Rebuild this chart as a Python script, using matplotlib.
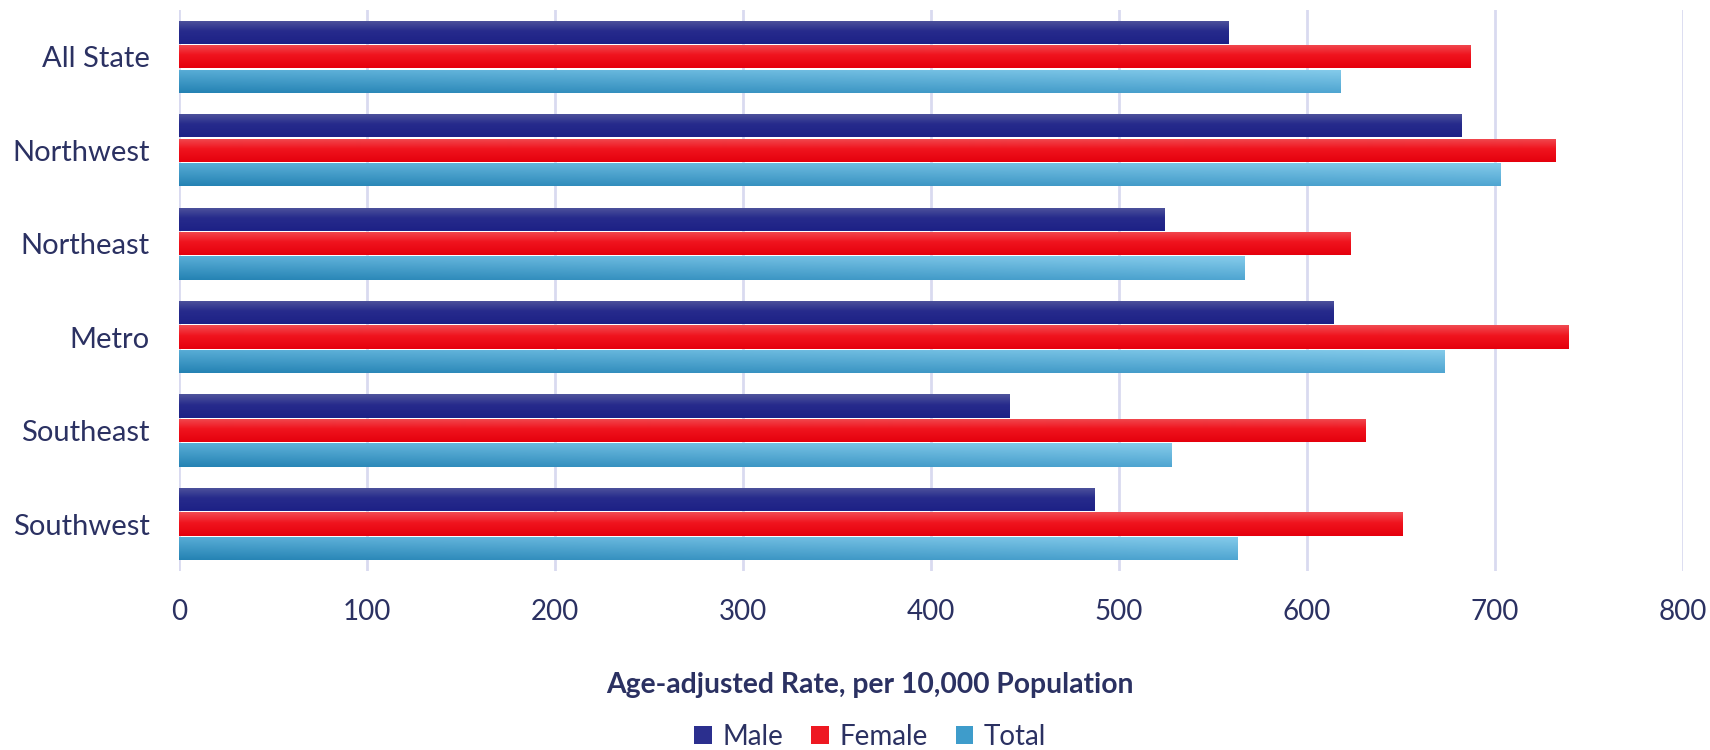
import numpy as np
import matplotlib
matplotlib.use('Agg')
import matplotlib.pyplot as plt
from matplotlib.patches import Patch
from matplotlib.colors import to_rgb

regions = ['All State', 'Northwest', 'Northeast', 'Metro', 'Southeast', 'Southwest']
male = [558, 682, 524, 614, 442, 487]
female = [687, 732, 623, 739, 631, 651]
total = [618, 703, 567, 673, 528, 563]
series_names = ['Male', 'Female', 'Total']
ticks = [0, 100, 200, 300, 400, 500, 600, 700, 800]

text_col = '#2B3162'
plt.rcParams['font.family'] = ['Lato', 'DejaVu Sans']


def vert_grad(top, mid, bottom, n=60):
    # colour per row, light at the top of the bar
    t = np.linspace(0, 1, n)
    c0, c1, c2 = np.array(to_rgb(top)), np.array(to_rgb(mid)), np.array(to_rgb(bottom))
    rows = []
    for v in t:
        if v < 0.45:
            rows.append(c0 + (c1 - c0) * v / 0.45)
        else:
            rows.append(c1 + (c2 - c1) * (v - 0.45) / 0.55)
    return np.array(rows)[:, None, :]


def diag_grad(lt, lb, rt, rb, n=60, m=120):
    v = np.linspace(0, 1, n)[:, None, None]
    u = np.linspace(0, 1, m)[None, :, None]
    lt, lb, rt, rb = [np.array(to_rgb(c)) for c in (lt, lb, rt, rb)]
    top = lt + (rt - lt) * u
    bot = lb + (rb - lb) * u
    return top + (bot - top) * v


male_img = vert_grad('#50559C', '#272B8C', '#1D2186')
female_img = vert_grad('#F04B52', '#F0141E', '#E5000D')
total_img = diag_grad('#5AAED7', '#2482B3', '#86CCEB', '#4FA5D1')

fig = plt.figure(figsize=(17.1, 7.5), dpi=100)
ax = fig.add_axes([0.1047, 0.239, 0.8795, 0.7476])

y = np.arange(len(regions))
pitch = 0.262
h = 0.25
for k, (vals, img) in enumerate([(male, male_img), (female, female_img), (total, total_img)]):
    bars = ax.barh(y + (k - 1) * pitch, vals, height=h, color='none', edgecolor='none', zorder=3)
    for b in bars:
        x0, y0 = b.get_x(), b.get_y()
        w, hh = b.get_width(), b.get_height()
        # y axis is inverted, so smaller y is the top of the bar
        im = ax.imshow(img, extent=(x0, x0 + w, y0 + hh, y0), origin='upper',
                       aspect='auto', interpolation='bilinear', zorder=3)
        im.set_clip_path(b)

ax.set_xlim(0, 800)
ax.set_ylim(len(regions) - 0.5, -0.5)
ax.set_xticks(ticks)
ax.set_xticklabels([str(t) for t in ticks])
ax.set_yticks(y)
ax.set_yticklabels(regions)
ax.tick_params(axis='x', length=0, labelsize=20, colors=text_col, pad=20)
ax.tick_params(axis='y', length=0, labelsize=21, colors=text_col, pad=21)
ax.grid(axis='x', color='#D9DAF0', linewidth=2, zorder=0)
ax.set_axisbelow(True)
for s in ax.spines.values():
    s.set_visible(False)

fig.text(0.509, 0.087, 'Age-adjusted Rate, per 10,000 Population', ha='center', va='center',
         fontsize=20.3, fontweight='bold', color=text_col)

handles = [Patch(facecolor='#2B2F8E', edgecolor='none'),
           Patch(facecolor='#EE1822', edgecolor='none'),
           Patch(facecolor='#3E9CCB', edgecolor='none')]
fig.legend(handles, series_names, loc='center', bbox_to_anchor=(0.509, 0.017), ncol=3,
           frameon=False, fontsize=20, handlelength=0.62, handleheight=0.62,
           handletextpad=0.4, columnspacing=1.0, labelcolor=text_col)

fig.savefig('out.png', dpi=100)
